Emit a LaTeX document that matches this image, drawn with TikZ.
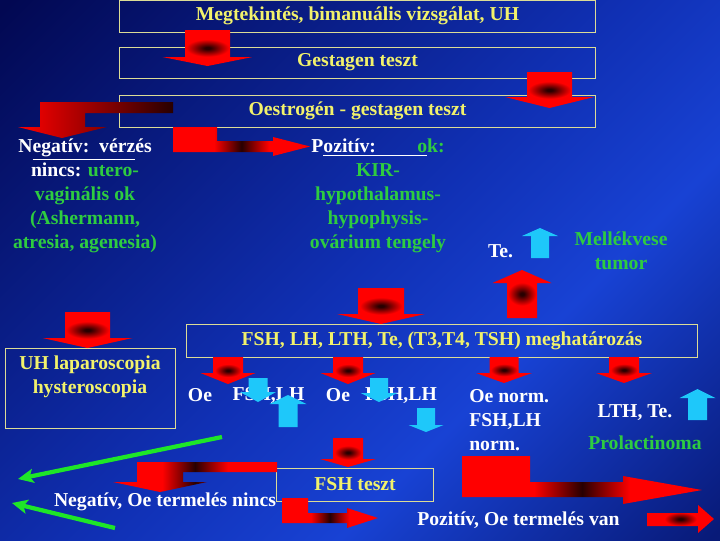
\documentclass[tikz,border=0pt]{standalone}
\usepackage{fontspec}
\setmainfont{Liberation Serif}
\usetikzlibrary{arrows.meta}

\definecolor{bgA}{HTML}{020852}
\definecolor{bgB}{HTML}{1030B4}
\definecolor{bgC}{HTML}{1842D4}
\definecolor{bgD}{HTML}{081A78}
\definecolor{txtyellow}{HTML}{F2F26B}
\definecolor{txtgreen}{HTML}{2ECC40}
\definecolor{boxline}{HTML}{DCDC96}
\definecolor{arrowcyan}{HTML}{1EC8FA}
\definecolor{arrowdark}{HTML}{280000}
\definecolor{linegreen}{HTML}{1EE628}

\pgfdeclarehorizontalshading{bgdiag}{100bp}{color(0bp)=(bgA); color(15bp)=(bgA); color(50bp)=(bgB); color(64bp)=(bgC); color(85bp)=(bgD); color(100bp)=(bgD)}
\pgfdeclareradialshading{redspot}{\pgfpoint{0bp}{0bp}}{color(0bp)=(arrowdark); color(1.5bp)=(arrowdark); color(12bp)=(red); color(50bp)=(red)}
\pgfdeclarehorizontalshading{bentmid}{100bp}{color(0bp)=(red); color(40bp)=(red); color(50bp)=(arrowdark); color(60bp)=(red); color(100bp)=(red)}

\tikzstyle{box} = [rectangle, draw=boxline, line width=0.7pt, text=txtyellow, inner sep=0pt]
\tikzstyle{txt} = [text=white, align=center, inner sep=0pt]
\tikzstyle{redarrow} = [shade, shading=redspot]
\tikzstyle{bentarrow} = [shade, shading=bentmid]
\tikzstyle{bentleft} = [left color=red, middle color=red, right color=arrowdark]
\tikzstyle{cyanarrow} = [fill=arrowcyan]
\tikzstyle{greenarrow} = [draw=linegreen, line width=3pt, -{Stealth[length=11pt,width=10pt,inset=2.5pt]}]

% block arrow: style, x, shaft start, head base, tip, shaft half width, head half width
\newcommand{\vblock}[7]{\path[#1] ({#2-#6},#3) -- ({#2+#6},#3) -- ({#2+#6},#4) -- ({#2+#7},#4) -- (#2,#5) -- ({#2-#7},#4) -- ({#2-#6},#4) -- cycle;}

\begin{document}
\begin{tikzpicture}[x=0.025cm, y=-0.025cm, every node/.style={font=\bfseries\fontsize{14}{17}\selectfont}]

\useasboundingbox (0,0) rectangle (720,540);
\shade[shading=bgdiag, shading angle=-45] (0,0) rectangle (720,540);

% boxes
\node (exam) [box, minimum width=11.875cm, minimum height=0.8cm] at (357.5,16) {Megtekintés, bimanuális vizsgálat, UH};
\node (gest) [box, minimum width=11.875cm, minimum height=0.775cm] at (357.5,62.5) {Gestagen teszt};
\node (oest) [box, minimum width=11.875cm, minimum height=0.8cm] at (357.5,111) {Oestrogén - gestagen teszt};
\node (uhbox) [box, minimum width=4.225cm, minimum height=2cm] at (90.5,388) {};
\node (uh) [txt, text=txtyellow] at (90,377) {UH laparoscopia\\hysteroscopia};
\node (hormon) [box, minimum width=12.75cm, minimum height=0.825cm] at (442,340.5) {FSH, LH, LTH, Te, (T3,T4, TSH) meghatározás};
\node (fshteszt) [box, minimum width=3.9cm, minimum height=0.825cm] at (355,484.5) {FSH teszt};

% red arrows
\vblock{redarrow}{207.5}{30}{57}{66}{22.5}{45}
\vblock{redarrow}{549.5}{72}{97}{108}{22.5}{44.5}
\vblock{redarrow}{87.5}{312}{338}{348}{22.5}{45}
\vblock{redarrow}{381}{288}{314}{324}{23}{44}
\vblock{redarrow}{522}{318}{283}{270}{15}{29.5}
\vblock{redarrow}{228}{357}{373}{384}{15}{27.5}
\vblock{redarrow}{348}{357}{373}{384}{15}{27.5}
\vblock{redarrow}{504}{357}{373}{383}{14.5}{28}
\vblock{redarrow}{624}{357}{373}{383}{15}{28}
\vblock{redarrow}{348}{438}{459}{467}{15}{28}
\path[bentleft] (173,102) -- (173,113) -- (85,113) -- (85,127) -- (107,127) -- (62,138) -- (18,127) -- (40,127) -- (40,102) -- cycle;
\path[bentarrow] (173,127) -- (217,127) -- (217,141) -- (273,141) -- (273,137) -- (310,146.5) -- (273,156) -- (273,152) -- (173,152) -- cycle;
\path[bentarrow] (277,462) -- (277,472) -- (183,472) -- (183,482) -- (207,482) -- (160,492) -- (113,482) -- (137,482) -- (137,462) -- cycle;
\path[bentarrow] (282,498) -- (308,498) -- (308,513) -- (347,513) -- (347,508) -- (378,518) -- (347,528) -- (347,523) -- (282,523) -- cycle;
\path[bentarrow] (462,456) -- (530,456) -- (530,482) -- (623,482) -- (623,476) -- (702,490) -- (623,504) -- (623,497) -- (462,497) -- cycle;
\path[redarrow] (647,513) -- (698,513) -- (698,505) -- (714,519) -- (698,533) -- (698,526) -- (647,526) -- cycle;

% texts
\node (neg) [txt, text=txtgreen] at (85,196) {\textcolor{white}{N\underline{egatív:\ \ vérz}és}\\\textcolor{white}{nincs:} utero-\\vaginális ok\\(Ashermann,\\atresia, agenesia)};
\node (poz) [txt, text=txtgreen] at (378,196) {\textcolor{white}{P\underline{ozitív:\hspace{2.1em}\textcolor{txtgreen}{o}}}k:\\KIR-\\hypothalamus-\\hypophysis-\\ovárium tengely};
\node (te) [txt] at (500.5,251) {Te.};
\node (mellek) [txt, text=txtgreen] at (621,251) {Mellékvese\\tumor};
\node (oe1) [txt] at (200,395) {Oe};
\node (fsh1) [txt] at (268.5,395) {FSH,LH};
\node (oe2) [txt] at (338,395) {Oe};
\node (fsh2) [txt] at (401,395) {FSH,LH};
\node (oenorm) [txt, align=left, anchor=west] at (469,420) {Oe norm.\\FSH,LH\\norm.};
\node (lth) [txt] at (635,413) {LTH, Te.};
\node (prol) [txt, text=txtgreen] at (645,443) {Prolactinoma};
\node (negoe) [txt] at (165,502) {Negatív, Oe termelés nincs};
\node (pozoe) [txt] at (518.5,520) {Pozitív, Oe termelés van};

% cyan arrows
\vblock{cyanarrow}{540}{258}{236}{228}{9}{18}
\vblock{cyanarrow}{258}{378}{392}{402}{9.5}{18}
\vblock{cyanarrow}{288}{427}{404}{395}{9.5}{18.5}
\vblock{cyanarrow}{379}{378}{393}{402}{9}{18.5}
\vblock{cyanarrow}{426}{408}{425}{432}{9}{17.5}
\vblock{cyanarrow}{697.5}{420}{398}{389}{9.5}{18}

% green arrows
\coordinate (g1s) at (222,437);
\coordinate (g1e) at (18,479);
\coordinate (g2s) at (115,528);
\coordinate (g2e) at (12,503);
\draw[greenarrow] (g1s) -- (g1e);
\draw[greenarrow] (g2s) -- (g2e);

\end{tikzpicture}
\end{document}
